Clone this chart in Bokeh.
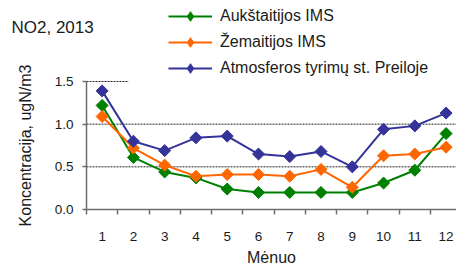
from bokeh.plotting import figure
from bokeh.models import Legend, LegendItem, FixedTicker, Range1d, Label
from bokeh.embed import file_html
from bokeh.resources import INLINE
import numpy as np

months = list(range(1, 13))
aukstaitijos = [1.22, 0.61, 0.44, 0.37, 0.24, 0.20, 0.20, 0.20, 0.20, 0.31, 0.46, 0.89]
zemaitijos = [1.09, 0.72, 0.52, 0.39, 0.41, 0.41, 0.39, 0.47, 0.26, 0.63, 0.65, 0.73]
preiloje = [1.39, 0.80, 0.69, 0.84, 0.86, 0.65, 0.62, 0.68, 0.50, 0.94, 0.98, 1.13]
series_names = ["Aukštaitijos IMS", "Žemaitijos IMS", "Atmosferos tyrimų st. Preiloje"]
colors = ["#008000", "#FF6600", "#333399"]
y_ticks = [0.0, 0.5, 1.0, 1.5]
y_tick_labels = ["0.0", "0.5", "1.0", "1.5"]

FONT = "Liberation Sans"
W, H = 456, 268
# layout of the plotting area (pixels)
AX_LEFT, AX_BOTTOM = 86, 209
PX_X, PX_Y = 31.27, 85.33
x_lo = 0.5 - AX_LEFT / PX_X
x_hi = 0.5 + (W - AX_LEFT) / PX_X
y_lo = -(H - AX_BOTTOM) / PX_Y
y_hi = AX_BOTTOM / PX_Y

p = figure(width=W, height=H, output_backend="svg", toolbar_location=None,
           x_range=Range1d(x_lo, x_hi), y_range=Range1d(y_lo, y_hi),
           min_border=0, min_border_left=0, min_border_right=0,
           min_border_top=0, min_border_bottom=0)
p.outline_line_color = None
p.background_fill_color = "white"
p.border_fill_color = "white"
p.xgrid.visible = False
p.ygrid.visible = False

# gridlines (dashed), the top one is mostly hidden behind the legend
GRID = dict(line_color="#222222", line_dash="2 1", line_width=1)
p.segment(x0=[0.5, 0.5], x1=[x_hi, x_hi], y0=y_ticks[1:3], y1=y_ticks[1:3], **GRID)
p.segment(x0=[0.5], x1=[1.85], y0=[y_ticks[3]], y1=[y_ticks[3]], **GRID)

# axes
xa = p.xaxis[0]
xa.fixed_location = 0
xa.bounds = (0.5, 12.5)
xa.ticker = FixedTicker(ticks=months, minor_ticks=[m - 0.5 for m in months] + [12.5])
xa.major_tick_out = 0
xa.major_tick_in = 0
xa.minor_tick_out = 5
xa.minor_tick_in = 0
xa.major_label_standoff = 17
xa.axis_label = "Mėnuo"
xa.axis_label_standoff = 5

ya = p.yaxis[0]
ya.fixed_location = 0.5
ya.bounds = (0, 1.5)
ya.ticker = FixedTicker(ticks=y_ticks, minor_ticks=[])
ya.major_label_overrides = {t: s for t, s in zip(y_ticks, y_tick_labels)}
ya.major_tick_out = 4
ya.major_tick_in = 0
ya.major_label_standoff = 9
ya.axis_label = "Koncentracija, ugN/m3"
ya.axis_label_standoff = 18

for ax in (xa, ya):
    ax.axis_line_color = "#6e6e6e"
    ax.axis_line_width = 1.5
    ax.major_tick_line_color = "#6e6e6e"
    ax.minor_tick_line_color = "#6e6e6e"
    ax.major_tick_line_width = 1.5
    ax.minor_tick_line_width = 1.5
    ax.major_label_text_font = FONT
    ax.major_label_text_font_size = "13.5px"
    ax.major_label_text_color = "#1a1a1a"
    ax.axis_label_text_font = FONT
    ax.axis_label_text_font_size = "16px"
    ax.axis_label_text_font_style = "normal"
    ax.axis_label_text_color = "#1a1a1a"

items = []
for name, vals, c in zip(series_names, [aukstaitijos, zemaitijos, preiloje], colors):
    l = p.line(months, vals, line_color=c, line_width=2)
    p.scatter(months, vals, marker="square", angle=np.pi / 4, size=8.5,
              fill_color=c, line_color=c)
    # diamond used only for the legend swatch
    d = p.scatter(months, vals, marker="diamond", size=13, fill_color=c, line_color=c,
                  visible=False)
    items.append(LegendItem(label=name, renderers=[l, d]))

legend = Legend(items=items, location=(168, 188), orientation="vertical",
                padding=0, margin=0, spacing=2, label_height=24, glyph_height=24,
                glyph_width=44, label_standoff=8,
                label_text_font=FONT, label_text_font_size="16px", label_text_color="#1a1a1a",
                background_fill_color="white", background_fill_alpha=1.0,
                border_line_alpha=0)
p.add_layout(legend, "center")

title = Label(x=11, y=H - 26.7, x_units="screen", y_units="screen", text="NO2, 2013",
              text_font=FONT, text_font_size="17px", text_color="#1a1a1a",
              text_baseline="alphabetic")
p.add_layout(title)

open("out.html", "w").write(file_html(p, INLINE))
